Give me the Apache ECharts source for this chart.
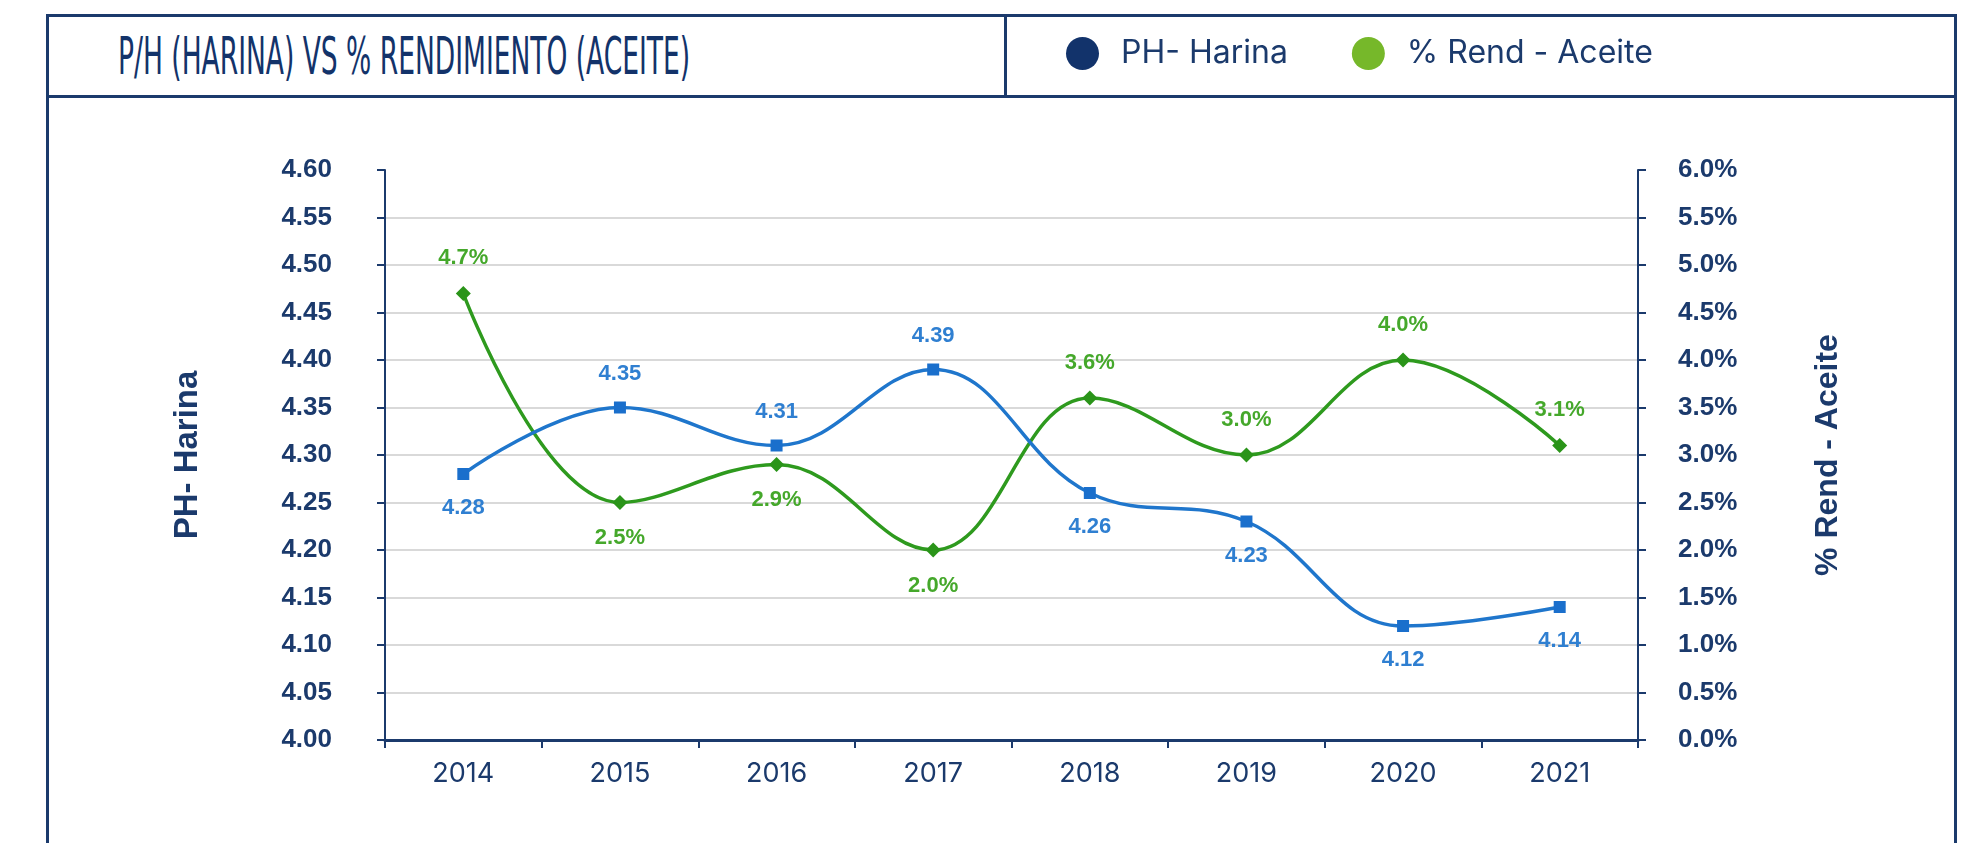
<!DOCTYPE html>
<html>
<head>
<meta charset="utf-8">
<script src="https://cdn.jsdelivr.net/npm/echarts@6/dist/echarts.min.js"></script>
<style>
  html, body { margin: 0; padding: 0; background: #fff; overflow: hidden; }
  #panel {
    position: absolute; left: 46px; top: 14px; width: 1911px; height: 900px;
    border: 3px solid #1b3a6c; box-sizing: border-box;
  }
  #header {
    position: absolute; left: 0; top: 0; right: 0; height: 78px;
    border-bottom: 3px solid #1b3a6c; box-sizing: content-box;
  }
  #divider {
    position: absolute; left: 955px; top: 0; width: 3px; height: 78px; background: #1b3a6c;
  }
  #title {
    position: absolute; left: 69px; top: 10px; white-space: nowrap;
    font-family: "Liberation Sans Narrow", "DejaVu Sans Condensed", sans-serif;
    font-size: 52px; line-height: 58px; color: #13336a; transform-origin: 0 50%;
  }
  #chart { position: absolute; left: 0; top: 0; width: 1977px; height: 843px; }
</style>
</head>
<body>
<div id="panel">
  <div id="header">
    <div id="title">P/H (HARINA) VS % RENDIMIENTO (ACEITE)</div>
    <div id="divider"></div>
  </div>
</div>
<div id="chart"></div>
<script>
// datos
const years = ['2014', '2015', '2016', '2017', '2018', '2019', '2020', '2021'];
const phHarina = [4.28, 4.35, 4.31, 4.39, 4.26, 4.23, 4.12, 4.14];
const rendAceite = [4.7, 2.5, 2.9, 2.0, 3.6, 3.0, 4.0, 3.1];   // %
const phLabelSide = ['bottom', 'top', 'top', 'top', 'bottom', 'bottom', 'bottom', 'bottom'];
const rendLabelSide = ['top', 'bottom', 'bottom', 'bottom', 'top', 'top', 'top', 'top'];

// titulo condensado: ajustar ancho
const t = document.getElementById('title');
t.style.transform = 'scaleX(' + (572 / t.offsetWidth) + ')';

const navy = '#1b3a6c';
const chart = echarts.init(document.getElementById('chart'));

chart.setOption({
  backgroundColor: 'transparent',
  animation: false,
  legend: {
    left: 1066,
    top: 37,
    padding: 0,
    itemWidth: 33,
    itemHeight: 33,
    itemGap: 64,
    icon: 'circle',
    textStyle: {
      fontFamily: 'Inter',
      fontSize: 32,
      color: navy,
      padding: [0, 0, 0, 17]
    },
    data: [
      { name: 'PH- Harina', itemStyle: { color: '#12336b' } },
      { name: '% Rend - Aceite', itemStyle: { color: '#76b82a' } }
    ]
  },
  grid: {
    left: 385,
    right: 339,
    top: 170,
    bottom: 103
  },
  xAxis: {
    type: 'category',
    data: years,
    boundaryGap: true,
    axisLine: { show: true, lineStyle: { color: navy, width: 3 } },
    axisTick: { show: true, length: 8, lineStyle: { color: navy, width: 2 } },
    axisLabel: {
      margin: 20,
      fontFamily: 'Inter',
      fontSize: 27,
      color: navy
    }
  },
  yAxis: [
    {
      type: 'value',
      name: 'PH- Harina',
      nameLocation: 'middle',
      nameRotate: 90,
      nameGap: 181,
      nameTextStyle: { fontFamily: 'Liberation Sans', fontWeight: 'bold', fontSize: 33, color: navy },
      min: 4.0,
      max: 4.6,
      interval: 0.05,
      axisLine: { show: true, lineStyle: { color: navy, width: 2 } },
      axisTick: { show: true, length: 8, lineStyle: { color: navy, width: 2 } },
      axisLabel: {
        margin: 53,
        fontFamily: 'Liberation Sans',
        fontWeight: 'bold',
        fontSize: 26,
        color: navy,
        formatter: v => v.toFixed(2)
      },
      splitLine: { show: true, showMaxLine: false, lineStyle: { color: '#d9d9d9', width: 2 } }
    },
    {
      type: 'value',
      name: '% Rend - Aceite',
      nameLocation: 'middle',
      nameRotate: 90,
      nameGap: 174,
      nameTextStyle: { fontFamily: 'Liberation Sans', fontWeight: 'bold', fontSize: 32, color: navy },
      min: 0,
      max: 6,
      interval: 0.5,
      axisLine: { show: true, lineStyle: { color: navy, width: 2 } },
      axisTick: { show: true, length: 8, lineStyle: { color: navy, width: 2 } },
      axisLabel: {
        margin: 40,
        fontFamily: 'Liberation Sans',
        fontWeight: 'bold',
        fontSize: 26,
        color: navy,
        formatter: v => v.toFixed(1) + '%'
      },
      splitLine: { show: false }
    }
  ],
  series: [
    {
      name: 'PH- Harina',
      type: 'line',
      yAxisIndex: 0,
      smooth: 0.4,
      symbol: 'rect',
      symbolSize: 12,
      lineStyle: { color: '#1f76cc', width: 3.5 },
      itemStyle: { color: '#1a6fcc' },
      data: phHarina.map((v, i) => ({ value: v, label: { position: phLabelSide[i] } })),
      label: {
        show: true,
        distance: 17,
        fontFamily: 'Liberation Sans',
        fontWeight: 'bold',
        fontSize: 22,
        color: '#2f7fd1',
        formatter: p => p.value.toFixed(2)
      },
      z: 3
    },
    {
      name: '% Rend - Aceite',
      type: 'line',
      yAxisIndex: 1,
      smooth: 0.4,
      symbol: 'diamond',
      symbolSize: 15,
      lineStyle: { color: '#2e9a1e', width: 3.5 },
      itemStyle: { color: '#2a9419' },
      data: rendAceite.map((v, i) => ({ value: v, label: { position: rendLabelSide[i] } })),
      label: {
        show: true,
        distance: 17,
        fontFamily: 'Liberation Sans',
        fontWeight: 'bold',
        fontSize: 22,
        color: '#45a82b',
        formatter: p => p.value.toFixed(1) + '%'
      },
      z: 2
    }
  ]
});
</script>
</body>
</html>
